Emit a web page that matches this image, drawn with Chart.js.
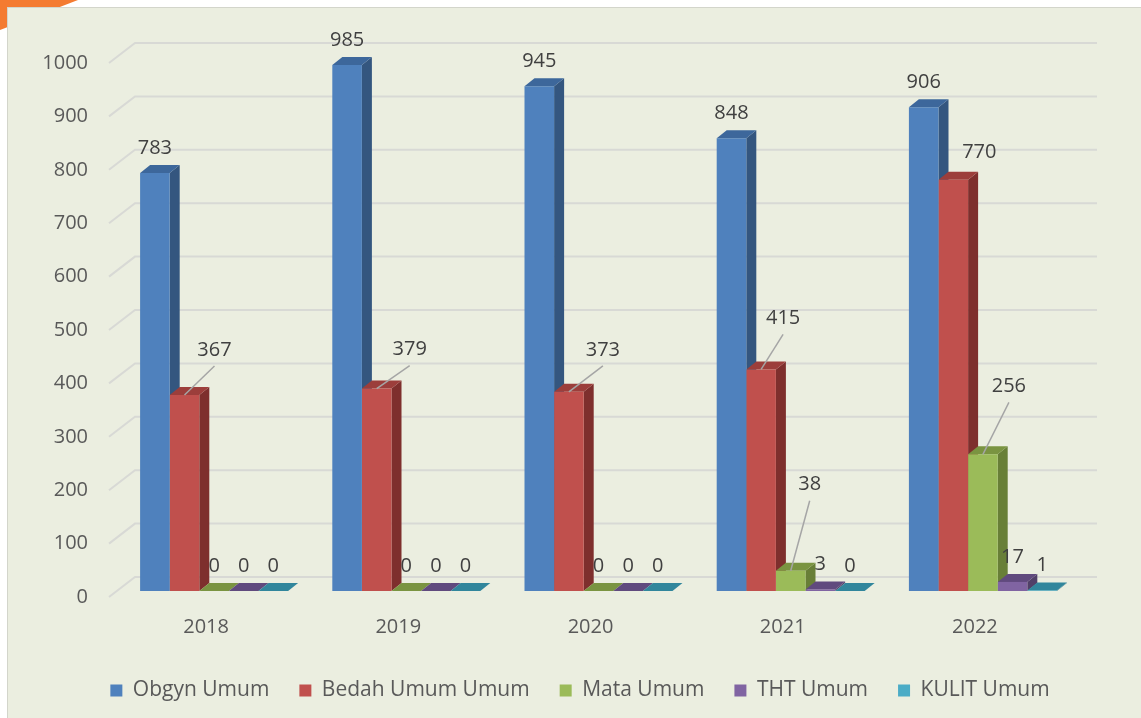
<!DOCTYPE html>
<html>
<head>
<meta charset="utf-8">
<script src="https://cdn.jsdelivr.net/npm/chart.js@4.4.1/dist/chart.umd.min.js"></script>
<style>
html, body { margin: 0; padding: 0; width: 1141px; height: 718px; overflow: hidden; background: #fff; }
#corner { position: absolute; left: 0; top: 0; width: 78px; height: 30px; background: #F47B31; clip-path: polygon(0 0, 100% 0, 0 100%); }
#panel { position: absolute; left: 7px; top: 7px; width: 1134px; height: 711px; background: #EBEEE0; border-top: 1px solid #D3D5CB; border-left: 1px solid #D3D5CB; box-sizing: border-box; }
#chart { position: absolute; left: 0; top: 0; }
</style>
</head>
<body>
<div id="corner"></div>
<div id="panel"></div>
<canvas id="chart" width="1141" height="711"></canvas>
<script>
// chart data
const years = ['2018', '2019', '2020', '2021', '2022'];
const seriesNames = ['Obgyn Umum', 'Bedah Umum Umum', 'Mata Umum', 'THT Umum', 'KULIT Umum'];
const obgynUmum = [783, 985, 945, 848, 906];
const bedahUmum = [367, 379, 373, 415, 770];
const mataUmum = [0, 0, 0, 38, 256];
const thtUmum = [0, 0, 0, 3, 17];
const kulitUmum = [0, 0, 0, 0, 1];
const yMin = 0, yMax = 1000, yStep = 100;

// colours: front, top, side
const frontColors = ['#4F81BD', '#C0504D', '#9BBB59', '#8064A2', '#4BACC6'];
const topColors = ['#3D679B', '#9C3E3B', '#7A9441', '#604A7E', '#31869C'];
const sideColors = ['#34567F', '#7E2F2D', '#687F37', '#514069', '#2A7285'];

// label nudges [dx, dy, leader line] keyed by "dataset-index"
const labelNudge = {
    '1-0': [30, -20, true],
    '1-1': [33, -14, true],
    '1-2': [34, -17, true],
    '1-3': [22, -26, true],
    '1-4': [26, -3, false],
    '2-3': [19, -61, true],
    '2-4': [26, -43, true]
};

const DX = 10, DY = 8; // bar depth
const FONT = '"Open Sans", "Liberation Sans", sans-serif';

const depth3d = {
    id: 'depth3d',
    beforeDatasetsDraw(chart) {
        const ctx = chart.ctx;
        const a = chart.chartArea;
        const y = chart.scales.y;
        ctx.save();
        // back wall gridlines + left diagonals
        ctx.strokeStyle = '#D8D9D5';
        ctx.lineWidth = 2;
        for (let v = yMin; v <= yMax; v += yStep) {
            const py = y.getPixelForValue(v);
            ctx.beginPath();
            ctx.moveTo(a.left - 9, py + 6);
            ctx.lineTo(a.left + 17, py - 14);
            ctx.lineTo(a.right + 18, py - 14);
            ctx.stroke();
        }
        // top and side faces, front faces are drawn by chart.js after this
        const metas = chart.data.datasets.map((d, i) => chart.getDatasetMeta(i));
        for (let j = 0; j < years.length; j++) {
            metas.forEach((meta, i) => {
                const el = meta.data[j];
                const p = el.getProps(['x', 'y', 'base', 'width'], true);
                const L = p.x - p.width / 2, R = p.x + p.width / 2;
                ctx.fillStyle = sideColors[i];
                ctx.beginPath();
                ctx.moveTo(R, p.y);
                ctx.lineTo(R + DX, p.y - DY);
                ctx.lineTo(R + DX, p.base - DY);
                ctx.lineTo(R, p.base);
                ctx.closePath();
                ctx.fill();
                ctx.fillStyle = topColors[i];
                ctx.beginPath();
                ctx.moveTo(L, p.y);
                ctx.lineTo(L + DX, p.y - DY);
                ctx.lineTo(R + DX, p.y - DY);
                ctx.lineTo(R, p.y);
                ctx.closePath();
                ctx.fill();
            });
        }
        ctx.restore();
    },
    afterDatasetsDraw(chart) {
        const ctx = chart.ctx;
        ctx.save();
        ctx.font = '20px ' + FONT;
        ctx.textAlign = 'center';
        ctx.textBaseline = 'middle';
        chart.data.datasets.forEach((ds, i) => {
            chart.getDatasetMeta(i).data.forEach((el, j) => {
                const n = labelNudge[i + '-' + j] || [0, 0, false];
                const lx = el.x + n[0];
                const ly = el.y - 25 + n[1];
                if (n[2]) {
                    ctx.strokeStyle = '#A5A5A5';
                    ctx.lineWidth = 1.5;
                    ctx.beginPath();
                    ctx.moveTo(el.x, el.y);
                    ctx.lineTo(lx, ly + 16);
                    ctx.stroke();
                }
                ctx.fillStyle = '#404040';
                ctx.fillText(ds.data[j], lx, ly);
            });
        });
        ctx.restore();
    }
};

const seriesData = [obgynUmum, bedahUmum, mataUmum, thtUmum, kulitUmum];

new Chart(document.getElementById('chart'), {
    type: 'bar',
    data: {
        labels: years,
        datasets: seriesData.map((d, i) => ({
            label: seriesNames[i],
            data: d,
            backgroundColor: frontColors[i],
            borderWidth: 0,
            barPercentage: 1,
            categoryPercentage: 0.77
        }))
    },
    options: {
        responsive: false,
        animation: false,
        devicePixelRatio: 1,
        layout: { padding: { left: 19, right: 0, top: 57, bottom: 0 } },
        plugins: {
            legend: {
                position: 'bottom',
                labels: {
                    boxWidth: 12,
                    boxHeight: 12,
                    padding: 30,
                    color: '#595959',
                    font: { family: FONT, size: 21 }
                }
            },
            tooltip: { enabled: false }
        },
        scales: {
            x: {
                afterFit(s) { s.height = 59; },
                grid: { display: false, drawTicks: false },
                border: { display: false },
                ticks: { padding: 24, labelOffset: -8, color: '#595959', font: { family: FONT, size: 20 } }
            },
            y: {
                min: yMin,
                max: yMax,
                afterFit(s) { s.width = 99; },
                grid: { display: false, drawTicks: false },
                border: { display: false },
                ticks: {
                    stepSize: yStep,
                    padding: 30,
                    labelOffset: 6,
                    color: '#595959',
                    font: { family: FONT, size: 20 },
                    callback: (v) => String(v)
                }
            },
            y2: {
                position: 'right',
                afterFit(s) { s.width = 62; },
                grid: { display: false, drawTicks: false },
                border: { display: false },
                ticks: { display: false }
            }
        }
    },
    plugins: [depth3d]
});
</script>
</body>
</html>
